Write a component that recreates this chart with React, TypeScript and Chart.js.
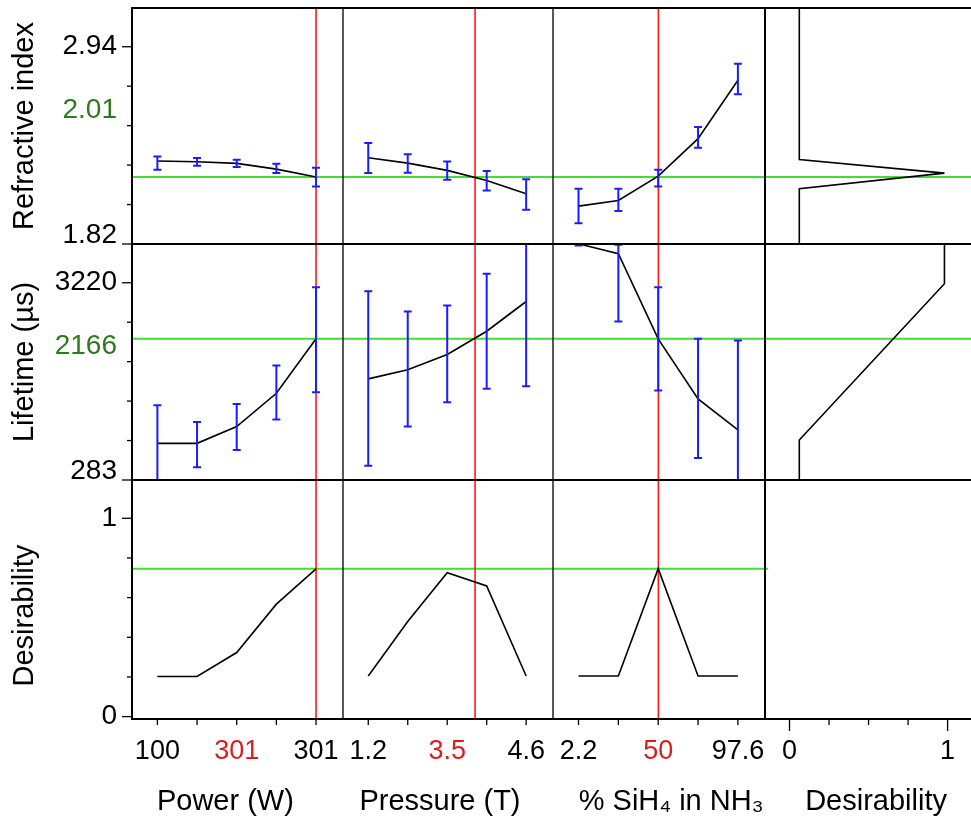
import React, { useEffect, useRef } from 'react';
import { Chart, registerables } from 'chart.js';

Chart.register(...registerables);

// ---------------- factor levels (x axes) ----------------
const powerLevels = [100, 150.25, 200.5, 250.75, 301];
const pressureLevels = [1.2, 2.05, 2.9, 3.75, 4.6];
const silaneLevels = [2.2, 26.05, 49.9, 73.75, 97.6];
const desirabilityLevels = [0, 0.25, 0.5, 0.75, 1];

const powerTickLabels = ['100', '', '301', '', '301'];
const pressureTickLabels = ['1.2', '', '3.5', '', '4.6'];
const silaneTickLabels = ['2.2', '', '50', '', '97.6'];
const desirabilityTickLabels = ['0', '', '', '', '1'];

const powerCurrent = 301;
const pressureCurrent = 3.5;
const silaneCurrent = 50;

// ---------------- responses (y axes) ----------------
const refrTicks = [1.82, 2.044, 2.268, 2.492, 2.716, 2.94];
const refrTickLabels = ['1.82', '', '', '', '', '2.94'];
const refrCurrent = 2.2;
const refrCurrentLabel = '2.01';

const lifeTicks = [283, 870.4, 1457.8, 2045.2, 2632.6, 3220];
const lifeTickLabels = ['283', '', '', '', '', '3220'];
const lifeCurrent = 2385;
const lifeCurrentLabel = '2166';

const desTicks = [0, 0.2, 0.4, 0.6, 0.8, 1];
const desTickLabels = ['0', '', '', '', '', '1'];
const desCurrent = 0.745;

// Refractive index profiles (prediction, lower, upper)
const refrByPower = [2.291, 2.287, 2.278, 2.245, 2.2];
const refrByPowerLow = [2.242, 2.265, 2.257, 2.223, 2.147];
const refrByPowerHigh = [2.317, 2.308, 2.299, 2.276, 2.253];

const refrByPressure = [2.31, 2.279, 2.238, 2.181, 2.105];
const refrByPressureLow = [2.223, 2.225, 2.185, 2.124, 2.014];
const refrByPressureHigh = [2.393, 2.329, 2.289, 2.234, 2.187];

const refrBySilane = [2.035, 2.067, 2.205, 2.418, 2.75];
const refrBySilaneLow = [1.938, 2.007, 2.147, 2.367, 2.67];
const refrBySilaneHigh = [2.134, 2.134, 2.242, 2.484, 2.844];

// Lifetime profiles (prediction, lower, upper)
const lifeByPower = [829, 829, 1078, 1574, 2385];
const lifeByPowerLow = [262, 471, 730, 1182, 1589];
const lifeByPowerHigh = [1395, 1148, 1416, 1987, 3154];

const lifeByPressure = [1789, 1923, 2151, 2498, 2941];
const lifeByPressureLow = [496, 1078, 1440, 1640, 1678];
const lifeByPressureHigh = [3095, 2792, 2882, 3354, 4204];

const lifeBySilane = [3800, 3652, 2385, 1491, 1028];
const lifeBySilaneLow = [3775, 2643, 1614, 611, -304];
const lifeBySilaneHigh = [4400, 3785, 3154, 2385, 2360];

// Desirability profiles
const desByPower = [0.202, 0.202, 0.323, 0.567, 0.745];
const desByPressure = [0.205, 0.48, 0.726, 0.659, 0.205];
const desBySilane = [0.205, 0.205, 0.746, 0.205, 0.205];

// Desirability functions (x = desirability, y = response)
const refrDesirabilityX = [0.062, 0.062, 0.98, 0.062, 0.062];
const refrDesirabilityY = [3.16, 2.299, 2.2225, 2.134, 1.82];
const lifeDesirabilityX = [0.062, 0.062, 0.98, 0.98];
const lifeDesirabilityY = [283, 879, 3205, 3800];

// ---------------- styling ----------------
const FONT = "'Liberation Sans', Arial, Helvetica, sans-serif";
const RED_TEXT = '#d81f1f';
const GREEN_TEXT = '#2f7a1f';
const RED_LINE = '#ff1a1a';
const GREEN_LINE = '#44dd33';
const BLUE = '#1c1cff';
const LEFT_W = 132;
const BOTTOM_H = 102;
const Y_TICK_SIZE = 28;
const X_TICK_SIZE = 27;
const TITLE_SIZE = 29;

function xRange(levels: number[]) {
  const step = (levels[levels.length - 1] - levels[0]) / (levels.length - 1);
  return { min: levels[0] - 0.64 * step, max: levels[levels.length - 1] + 0.68 * step };
}

function zeroPad(s: any) {
  s.paddingLeft = 0;
  s.paddingRight = 0;
  s.paddingTop = 0;
  s.paddingBottom = 0;
}

function makeX(levels: number[], labels: string[], range: any, title: string, weight: number, stackWeight: number, currentIdx: number) {
  return {
    type: 'linear',
    position: 'bottom',
    stack: 'cols',
    stackWeight,
    weight,
    bounds: 'data',
    min: range.min,
    max: range.max,
    afterBuildTicks: (s: any) => {
      s.ticks = levels.map((v) => ({ value: v }));
    },
    afterFit: (s: any) => {
      s.height = BOTTOM_H;
      zeroPad(s);
    },
    grid: { display: false, drawTicks: false },
    border: { display: false },
    ticks: {
      autoSkip: false,
      maxRotation: 0,
      minRotation: 0,
      padding: 16,
      font: { size: X_TICK_SIZE, family: FONT },
      color: (c: any) => (c.index === currentIdx ? RED_TEXT : '#000'),
      callback: (_v: any, i: number) => labels[i],
    },
    title: { display: true, text: title, color: '#000', font: { size: TITLE_SIZE, family: FONT }, padding: { top: 0, bottom: 1.5 } },
  };
}

function makeY(ticksV: number[], labels: string[], min: number, max: number, title: string, weight: number, stackWeight: number, hideFirst: boolean) {
  return {
    type: 'linear',
    position: 'left',
    stack: 'rows',
    stackWeight,
    weight,
    bounds: 'data',
    min,
    max,
    afterBuildTicks: (s: any) => {
      s.ticks = ticksV.map((v) => ({ value: v }));
    },
    afterFit: (s: any) => {
      s.width = LEFT_W;
      zeroPad(s);
    },
    grid: { display: false, drawTicks: false },
    border: { display: false },
    ticks: {
      autoSkip: false,
      padding: 15,
      font: { size: Y_TICK_SIZE, family: FONT },
      color: '#000',
      callback: (_v: any, i: number) => (hideFirst && i === 0 ? '' : labels[i]),
    },
    title: { display: true, text: title, color: '#000', font: { size: TITLE_SIZE, family: FONT }, padding: { top: 7.5, bottom: 0 } },
  };
}

function series(xs: number[], ys: number[], xAxisID: string, yAxisID: string) {
  return {
    data: xs.map((x, i) => ({ x, y: ys[i] })),
    xAxisID,
    yAxisID,
    borderColor: '#000',
    borderWidth: 1.6,
    pointRadius: 0,
    fill: false,
    tension: 0,
  };
}

const errorBars = [
  { x: 'xP', y: 'yR', xs: powerLevels, lo: refrByPowerLow, hi: refrByPowerHigh },
  { x: 'xT', y: 'yR', xs: pressureLevels, lo: refrByPressureLow, hi: refrByPressureHigh },
  { x: 'xS', y: 'yR', xs: silaneLevels, lo: refrBySilaneLow, hi: refrBySilaneHigh },
  { x: 'xP', y: 'yL', xs: powerLevels, lo: lifeByPowerLow, hi: lifeByPowerHigh },
  { x: 'xT', y: 'yL', xs: pressureLevels, lo: lifeByPressureLow, hi: lifeByPressureHigh },
  { x: 'xS', y: 'yL', xs: silaneLevels, lo: lifeBySilaneLow, hi: lifeBySilaneHigh },
];

const yAxesInfo = [
  { id: 'yR', ticks: refrTicks, labels: refrTickLabels, current: refrCurrent, currentLabel: refrCurrentLabel, liftMin: true },
  { id: 'yL', ticks: lifeTicks, labels: lifeTickLabels, current: lifeCurrent, currentLabel: lifeCurrentLabel, liftMin: true },
  { id: 'yD', ticks: desTicks, labels: desTickLabels, current: desCurrent, currentLabel: '', liftMin: false },
];

const xAxesInfo = [
  { id: 'xP', ticks: powerLevels, labels: powerTickLabels, current: powerCurrent, longLabeled: false },
  { id: 'xT', ticks: pressureLevels, labels: pressureTickLabels, current: pressureCurrent, longLabeled: false },
  { id: 'xS', ticks: silaneLevels, labels: silaneTickLabels, current: silaneCurrent, longLabeled: false },
  { id: 'xD', ticks: desirabilityLevels, labels: desirabilityTickLabels, current: null as any, longLabeled: true },
];

const profilerPlugin = {
  id: 'profiler',
  beforeDatasetsDraw(chart: any) {
    const { ctx, chartArea, scales } = chart;
    ctx.save();
    // green horizontal lines (current responses)
    ctx.strokeStyle = GREEN_LINE;
    ctx.lineWidth = 2;
    yAxesInfo.forEach((a) => {
      const ys = scales[a.id];
      const y = ys.getPixelForValue(a.current);
      const xEnd = a.id === 'yD' ? scales.xD.left + 3 : chartArea.right;
      ctx.beginPath();
      ctx.moveTo(chartArea.left, y);
      ctx.lineTo(xEnd, y);
      ctx.stroke();
    });
    // red vertical lines (current factor settings)
    ctx.strokeStyle = RED_LINE;
    ctx.lineWidth = 1.6;
    xAxesInfo.forEach((a) => {
      if (a.current === null) return;
      const x = scales[a.id].getPixelForValue(a.current);
      ctx.beginPath();
      ctx.moveTo(x, chartArea.top);
      ctx.lineTo(x, chartArea.bottom);
      ctx.stroke();
    });
    ctx.restore();
  },
  afterDatasetsDraw(chart: any) {
    const { ctx, scales } = chart;
    errorBars.forEach((eb) => {
      const xs = scales[eb.x];
      const ys = scales[eb.y];
      ctx.save();
      ctx.beginPath();
      ctx.rect(xs.left, ys.top, xs.right - xs.left, ys.bottom - ys.top);
      ctx.clip();
      ctx.strokeStyle = BLUE;
      ctx.lineWidth = 2;
      eb.xs.forEach((xv, i) => {
        const x = xs.getPixelForValue(xv);
        const y1 = ys.getPixelForValue(eb.lo[i]);
        const y2 = ys.getPixelForValue(eb.hi[i]);
        ctx.beginPath();
        ctx.moveTo(x, y1);
        ctx.lineTo(x, y2);
        ctx.moveTo(x - 4, y1);
        ctx.lineTo(x + 4, y1);
        ctx.moveTo(x - 4, y2);
        ctx.lineTo(x + 4, y2);
        ctx.stroke();
      });
      ctx.restore();
    });
  },
  afterDraw(chart: any) {
    const { ctx, chartArea, scales } = chart;
    ctx.save();
    ctx.strokeStyle = '#000';
    // tick marks on y axes
    ctx.lineWidth = 1.3;
    yAxesInfo.forEach((a) => {
      const ys = scales[a.id];
      a.ticks.forEach((v, i) => {
        const y = ys.getPixelForValue(v);
        const len = a.labels[i] ? 10 : 5;
        ctx.beginPath();
        ctx.moveTo(chartArea.left - len, y);
        ctx.lineTo(chartArea.left, y);
        ctx.stroke();
      });
    });
    // tick marks on x axes
    xAxesInfo.forEach((a) => {
      const xs = scales[a.id];
      a.ticks.forEach((v, i) => {
        const x = xs.getPixelForValue(v);
        const len = a.longLabeled && a.labels[i] ? 12 : 6;
        ctx.beginPath();
        ctx.moveTo(x, chartArea.bottom);
        ctx.lineTo(x, chartArea.bottom + len);
        ctx.stroke();
      });
    });
    // panel frame
    ctx.lineWidth = 2;
    ctx.beginPath();
    ctx.moveTo(chartArea.left, chartArea.top);
    ctx.lineTo(chartArea.right, chartArea.top);
    ctx.moveTo(chartArea.left, chartArea.top - 1);
    ctx.lineTo(chartArea.left, chartArea.bottom + 1);
    ctx.moveTo(chartArea.left, chartArea.bottom);
    ctx.lineTo(chartArea.right, chartArea.bottom);
    ctx.moveTo(chartArea.left, scales.yR.bottom);
    ctx.lineTo(chartArea.right, scales.yR.bottom);
    ctx.moveTo(chartArea.left, scales.yL.bottom);
    ctx.lineTo(chartArea.right, scales.yL.bottom);
    ctx.moveTo(scales.xS.right, chartArea.top);
    ctx.lineTo(scales.xS.right, chartArea.bottom);
    ctx.stroke();
    ctx.lineWidth = 1.3;
    ctx.beginPath();
    ctx.moveTo(scales.xP.right, chartArea.top);
    ctx.lineTo(scales.xP.right, chartArea.bottom);
    ctx.moveTo(scales.xT.right, chartArea.top);
    ctx.lineTo(scales.xT.right, chartArea.bottom);
    ctx.stroke();
    // current-value labels and bottom-aligned minimum labels
    ctx.font = `${Y_TICK_SIZE}px ${FONT}`;
    ctx.textAlign = 'right';
    yAxesInfo.forEach((a) => {
      const ys = scales[a.id];
      if (a.currentLabel) {
        ctx.fillStyle = GREEN_TEXT;
        ctx.textBaseline = 'middle';
        ctx.fillText(a.currentLabel, chartArea.left - 15, (ys.top + ys.bottom) / 2 - 16);
      }
      if (a.liftMin) {
        ctx.fillStyle = '#000';
        ctx.textBaseline = 'alphabetic';
        ctx.fillText(a.labels[0], chartArea.left - 15, ys.bottom - 1);
      }
    });
    ctx.restore();
  },
};

const config: any = {
  type: 'line',
  data: {
    datasets: [
      series(powerLevels, refrByPower, 'xP', 'yR'),
      series(pressureLevels, refrByPressure, 'xT', 'yR'),
      series(silaneLevels, refrBySilane, 'xS', 'yR'),
      series(refrDesirabilityX, refrDesirabilityY, 'xD', 'yR'),
      series(powerLevels, lifeByPower, 'xP', 'yL'),
      series(pressureLevels, lifeByPressure, 'xT', 'yL'),
      series(silaneLevels, lifeBySilane, 'xS', 'yL'),
      series(lifeDesirabilityX, lifeDesirabilityY, 'xD', 'yL'),
      series(powerLevels, desByPower, 'xP', 'yD'),
      series(pressureLevels, desByPressure, 'xT', 'yD'),
      series(silaneLevels, desBySilane, 'xS', 'yD'),
    ],
  },
  options: {
    animation: false,
    responsive: false,
    devicePixelRatio: 1,
    events: [],
    layout: { padding: { top: 8, left: 0, right: 0, bottom: 0 } },
    plugins: { legend: { display: false }, tooltip: { enabled: false } },
    scales: {
      yR: makeY(refrTicks, refrTickLabels, 1.82, 3.16, 'Refractive index', 3, 236, true),
      yL: makeY(lifeTicks, lifeTickLabels, 283, 3797, 'Lifetime (µs)', 2, 236, true),
      yD: makeY(desTicks, desTickLabels, -0.012, 1.193, 'Desirability    ', 1, 239, false),
      xP: makeX(powerLevels, powerTickLabels, xRange(powerLevels), 'Power (W)   ', 1, 211, 2),
      xT: makeX(pressureLevels, pressureTickLabels, xRange(pressureLevels), 'Pressure (T)  ', 2, 210, 2),
      xS: makeX(silaneLevels, silaneTickLabels, xRange(silaneLevels), '   % SiH₄ in NH₃', 3, 212, 2),
      xD: makeX(desirabilityLevels, desirabilityTickLabels, { min: -0.155, max: 1.148 }, '  Desirability', 4, 206, -1),
    },
  },
  plugins: [profilerPlugin],
};

export default function App() {
  const ref = useRef<HTMLCanvasElement>(null);
  useEffect(() => {
    Chart.defaults.font.family = FONT;
    const chart = new Chart(ref.current as HTMLCanvasElement, config);
    return () => chart.destroy();
  }, []);
  return (
    <div style={{ position: 'absolute', left: 0, top: 0, width: 971, height: 821, background: '#fff' }}>
      <canvas ref={ref} width={971} height={821} style={{ display: 'block' }} />
    </div>
  );
}
